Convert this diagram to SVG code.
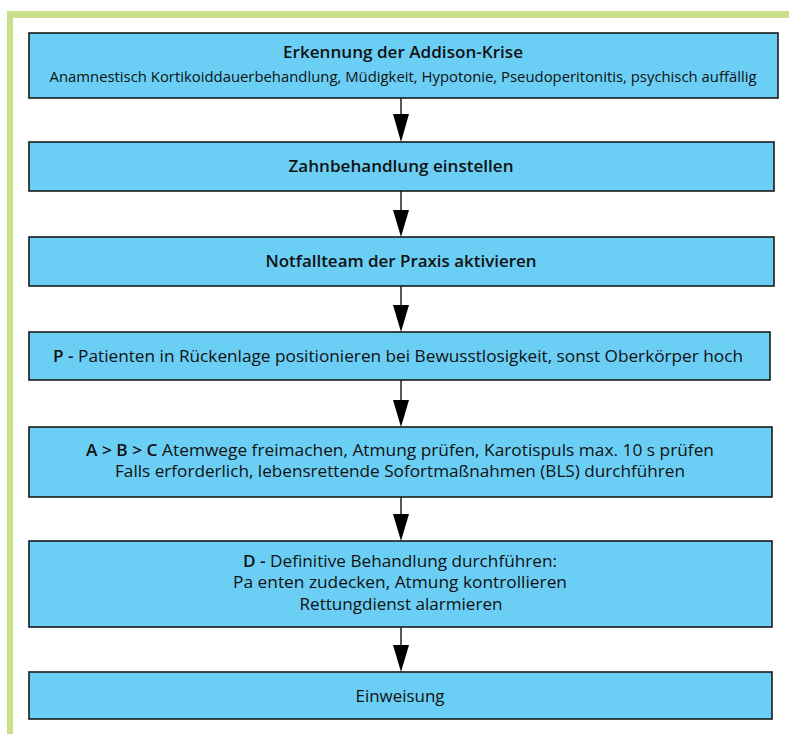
<svg xmlns="http://www.w3.org/2000/svg" width="789" height="734" viewBox="0 0 789 734">
<style>
.frame{fill:#c9df8a}
.box{fill:#6bcff5;stroke:#1a1a1a;stroke-width:1.6}
.t{font-family:"Open Sans","Noto Sans","Liberation Sans",sans-serif;fill:#111;text-anchor:middle;font-size:17px}
.s{font-size:14.5px}
.b{font-weight:600}
.conn line{stroke:#000;stroke-width:1.3}
.conn polygon{fill:#000}
</style>
<rect width="789" height="734" fill="#fff"/>
<rect class="frame" x="7" y="11" width="782" height="7"/>
<rect class="frame" x="7" y="11" width="6" height="723"/>
<g id="connectors" class="conn">
<line x1="401" y1="98" x2="401" y2="116"/><polygon points="393,114 409,114 401,142"/>
<line x1="401" y1="191" x2="401" y2="211"/><polygon points="393,210 409,210 401,237"/>
<line x1="401" y1="286" x2="401" y2="306"/><polygon points="393,305 409,305 401,332"/>
<line x1="401" y1="380" x2="401" y2="401"/><polygon points="393,400 409,400 401,427"/>
<line x1="401" y1="497" x2="401" y2="515"/><polygon points="393,514 409,514 401,541"/>
<line x1="401" y1="627" x2="401" y2="646"/><polygon points="393,645 409,645 401,672"/>
</g>
<g id="n1">
<rect class="box" x="29" y="33" width="749" height="65"/>
<text class="t b" x="403" y="58" textLength="240" lengthAdjust="spacingAndGlyphs">Erkennung der Addison-Krise</text>
<text class="t s" x="403" y="82" textLength="707" lengthAdjust="spacingAndGlyphs">Anamnestisch Kortikoiddauerbehandlung, Müdigkeit, Hypotonie, Pseudoperitonitis, psychisch auffällig</text>
</g>
<g id="n2">
<rect class="box" x="29" y="142" width="745" height="49"/>
<text class="t b" x="401" y="172" textLength="225" lengthAdjust="spacingAndGlyphs">Zahnbehandlung einstellen</text>
</g>
<g id="n3">
<rect class="box" x="29" y="237" width="745" height="49"/>
<text class="t b" x="401" y="267" textLength="271" lengthAdjust="spacingAndGlyphs">Notfallteam der Praxis aktivieren</text>
</g>
<g id="n4">
<rect class="box" x="29" y="332" width="741" height="48"/>
<text class="t" x="398" y="362" textLength="690" lengthAdjust="spacingAndGlyphs"><tspan class="b">P -</tspan> Patienten in Rückenlage positionieren bei Bewusstlosigkeit, sonst Oberkörper hoch</text>
</g>
<g id="n5">
<rect class="box" x="29" y="427" width="743" height="70"/>
<text class="t" x="400" y="456" textLength="628" lengthAdjust="spacingAndGlyphs"><tspan class="b">A &gt; B &gt; C</tspan> Atemwege freimachen, Atmung prüfen, Karotispuls max. 10 s prüfen</text>
<text class="t" x="400" y="477" textLength="570" lengthAdjust="spacingAndGlyphs">Falls erforderlich, lebensrettende Sofortmaßnahmen (BLS) durchführen</text>
</g>
<g id="n6">
<rect class="box" x="29" y="541" width="743" height="86"/>
<text class="t" x="400" y="567" textLength="314" lengthAdjust="spacingAndGlyphs"><tspan class="b">D -</tspan> Definitive Behandlung durchführen:</text>
<text class="t" x="400" y="588" textLength="334" lengthAdjust="spacingAndGlyphs">Pa enten zudecken, Atmung kontrollieren</text>
<text class="t" x="401" y="610" textLength="203" lengthAdjust="spacingAndGlyphs">Rettungdienst alarmieren</text>
</g>
<g id="n7">
<rect class="box" x="29" y="672" width="743" height="47"/>
<text class="t" x="400" y="702" textLength="89" lengthAdjust="spacingAndGlyphs">Einweisung</text>
</g>
</svg>
